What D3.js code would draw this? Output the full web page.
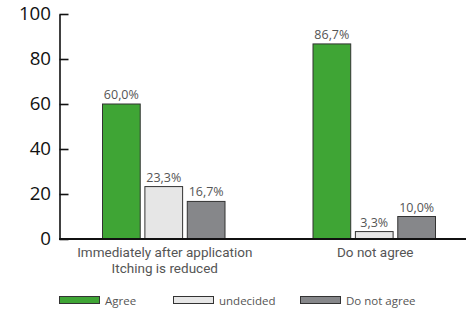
<!DOCTYPE html>
<html>
<head>
<meta charset="utf-8">
<script src="https://cdn.jsdelivr.net/npm/d3@7"></script>
<style>
  body { margin: 0; background: #fff; }
  svg { display: block; font-family: "Open Sans", "DejaVu Sans", sans-serif; }
</style>
</head>
<body>
<div id="container"></div>
<script>
// data
var categories = [["Immediately after application", "Itching is reduced"], ["Do not agree"]];
var seriesNames = ["Agree", "undecided", "Do not agree"];
var seriesColors = ["#3fa535", "#e6e6e6", "#86878a"];
var agree = [60.0, 86.7];
var undecided = [23.3, 3.3];
var disagree = [16.7, 10.0];
var yTicks = [0, 20, 40, 60, 80, 100];

var values = [agree, undecided, disagree];

var width = 466, height = 310;
var svg = d3.select("#container").append("svg")
  .attr("width", width)
  .attr("height", height);

var y = d3.scaleLinear().domain([0, 100]).range([239, 14]);
var x0 = d3.scaleBand().domain(d3.range(categories.length)).range([59, 480]).paddingInner(0).paddingOuter(0);
var x1 = d3.scaleBand().domain(d3.range(seriesNames.length)).range([43.5, 166]).paddingInner(0.11);

// bars
var groups = svg.selectAll("g.grp")
  .data(categories)
  .enter().append("g")
    .attr("class", "grp")
    .attr("transform", (d, i) => "translate(" + x0(i) + ",0)");

groups.selectAll("rect")
  .data((d, i) => values.map((s, k) => ({k: k, v: s[i]})))
  .enter().append("rect")
    .attr("x", d => x1(d.k))
    .attr("y", d => y(d.v))
    .attr("width", x1.bandwidth())
    .attr("height", d => y(0) - y(d.v))
    .attr("fill", d => seriesColors[d.k])
    .attr("stroke", "#333")
    .attr("stroke-width", 1);

groups.selectAll("text.val")
  .data((d, i) => values.map((s, k) => ({k: k, v: s[i]})))
  .enter().append("text")
    .attr("class", "val")
    .attr("x", d => x1(d.k) + x1.bandwidth() / 2)
    .attr("y", d => y(d.v) - 5)
    .attr("text-anchor", "middle")
    .attr("font-size", 12.5)
    .attr("fill", "#555")
    .text(d => d.v.toFixed(1).replace(".", ",") + "%");

// category labels, one text per line
groups.selectAll("text.cat")
  .data(d => d)
  .enter().append("text")
    .attr("class", "cat")
    .attr("x", x0.bandwidth() / 2 + 0.5)
    .attr("y", (d, i) => 257 + i * 15.8)
    .attr("text-anchor", "middle")
    .attr("font-family", "Roboto, sans-serif")
    .attr("font-size", 13.5)
    .attr("fill", "#555")
    .text(d => d);

// y axis
var yAxis = svg.append("g")
  .attr("transform", "translate(59.5,0)")
  .call(d3.axisLeft(y).tickValues(yTicks).tickSizeInner(-9).tickSizeOuter(0).tickPadding(8.5));
yAxis.select(".domain").attr("stroke", "#111").attr("stroke-width", 1.6);
yAxis.selectAll(".tick line").attr("stroke", "#111").attr("stroke-width", 1.6);
yAxis.selectAll(".tick text")
  .attr("font-size", 18.7)
  .attr("font-family", "Open Sans, sans-serif")
  .attr("fill", "#111");

// baseline
svg.append("line")
  .attr("x1", 59).attr("x2", width)
  .attr("y1", y(0)).attr("y2", y(0))
  .attr("stroke", "#111")
  .attr("stroke-width", 2);

// legend
var legendX = [59, 173, 300];
var legend = svg.selectAll("g.leg")
  .data(seriesNames)
  .enter().append("g")
    .attr("class", "leg")
    .attr("transform", (d, i) => "translate(" + legendX[i] + ",296)");
legend.append("rect")
  .attr("x", 0.5).attr("y", 0.5)
  .attr("width", 40).attr("height", 7)
  .attr("fill", (d, i) => seriesColors[i])
  .attr("stroke", "#333");
legend.append("text")
  .attr("x", 46)
  .attr("y", 8.5)
  .attr("font-size", 11.5)
  .attr("fill", "#555")
  .text(d => d);
</script>
</body>
</html>
